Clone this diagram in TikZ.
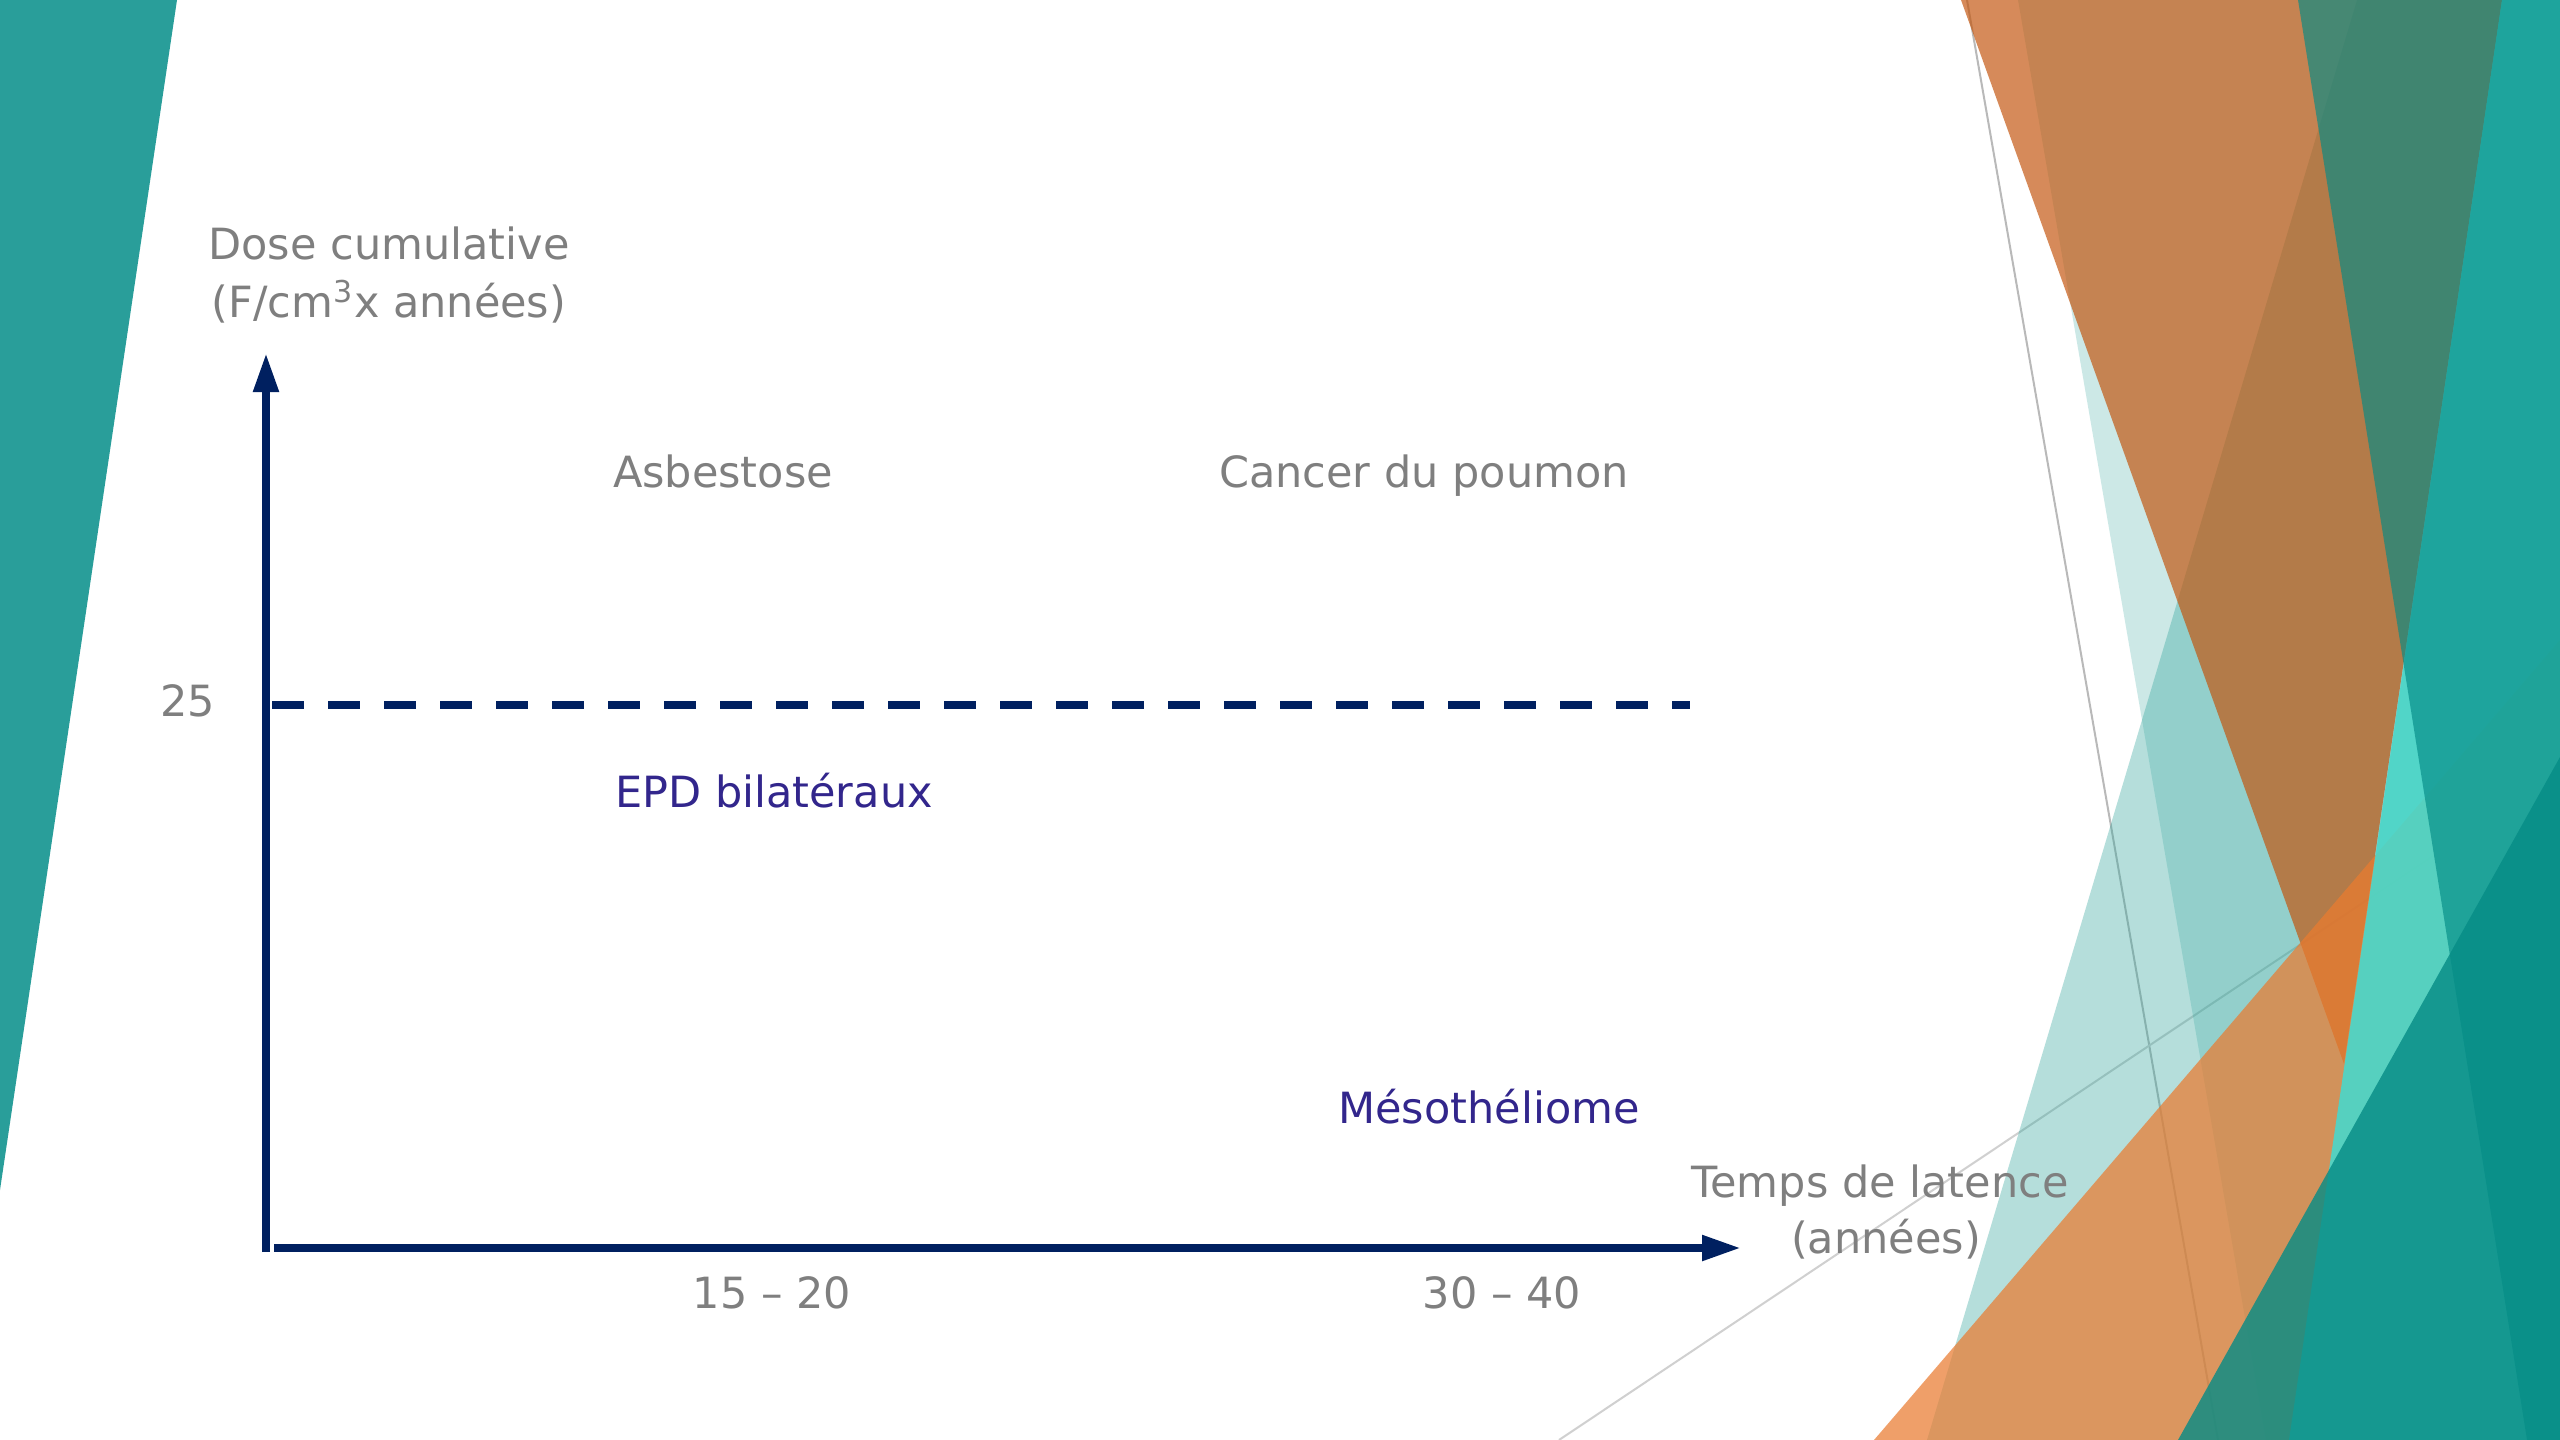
\documentclass[tikz,border=0pt]{standalone}
\usepackage{fontspec}
\setmainfont{DejaVu Sans}
\usetikzlibrary{arrows.meta}
\definecolor{axisblue}{RGB}{0,32,96}
\definecolor{txtgray}{RGB}{127,127,127}
\definecolor{lblpurple}{RGB}{50,38,140}
\definecolor{leftteal}{RGB}{41,158,154}
\definecolor{tealA}{RGB}{43,163,154}
\definecolor{orgA}{RGB}{195,84,12}
\definecolor{orgB}{RGB}{234,123,48}
\definecolor{tealB}{RGB}{76,214,200}
\definecolor{tealC}{RGB}{3,139,134}
\definecolor{tealD}{RGB}{6,140,134}
\definecolor{lineA}{RGB}{185,185,185}
\definecolor{lineB}{RGB}{208,208,208}
\begin{document}
\begin{tikzpicture}[x=0.3pt,y=-0.3pt,
  graytxt/.style={text=txtgray,font=\fontsize{12.9pt}{17pt}\selectfont,inner sep=0pt,anchor=base},
  purpletxt/.style={graytxt,text=lblpurple},
  axisline/.style={draw=axisblue,line width=2.4pt,-{Triangle[length=11.7pt,width=7.2pt]}},
  dashline/.style={draw=axisblue,line width=2.6pt,dash pattern=on 9.6pt off 7.2pt},
  facet/.style={draw=none},
  thinline/.style={line width=0.6pt}
]
% background and bounding box
\fill[white] (0,0) rectangle (2560,1440);
\useasboundingbox (0,0) rectangle (2560,1440);

% left decoration
\fill[leftteal] (0,0) -- (177,0) -- (0,1190) -- cycle;

% thin decorative lines
\draw[thinline,draw=lineA] (1967,0) -- (2218,1440);
\draw[thinline,draw=lineB] (1559,1440) -- (2560,771);

% right facets
\fill[facet,tealA,fill opacity=0.24] (2018,0) -- (2266,1440) -- (2560,1440) -- (2560,0) -- cycle;
\fill[facet,tealA,fill opacity=0.35] (2357,0) -- (1927,1440) -- (2560,1440) -- (2560,0) -- cycle;
\fill[facet,orgA,fill opacity=0.68] (1961,0) -- (2502,0) -- (2344,1064) -- cycle;
\fill[facet,orgB,fill opacity=0.72] (1874,1440) -- (2560,640) -- (2560,1440) -- cycle;
\fill[facet,tealB,fill opacity=0.92] (2502,0) -- (2289,1440) -- (2560,1440) -- (2560,0) -- cycle;
\fill[facet,tealC,fill opacity=0.65] (2298,0) -- (2527,1440) -- (2560,1440) -- (2560,0) -- cycle;
\fill[facet,tealD,fill opacity=0.81] (2178,1440) -- (2560,757) -- (2560,1440) -- cycle;

% axes
\coordinate (yfoot) at (266,1252);
\coordinate (ytip) at (266,353);
\coordinate (xfoot) at (274,1248);
\coordinate (xtip) at (1741,1248);
\coordinate (dashA) at (272,705);
\coordinate (dashB) at (1690,705);
\draw[axisline] (yfoot) -- (ytip);
\draw[axisline] (xfoot) -- (xtip);
\draw[dashline] (dashA) -- (dashB);

% labels
\node[graytxt] (doseA) at (389,259) {Dose cumulative};
\node[graytxt] (doseB) at (389,317) {(F/cm\textsuperscript{3}x années)};
\node[graytxt] (v25) at (188,716) {25};
\node[graytxt] (asb) at (723,487) {Asbestose};
\node[graytxt] (cancer) at (1424,487) {Cancer du poumon};
\node[purpletxt] (epd) at (774,807) {EPD bilatéraux};
\node[purpletxt] (meso) at (1489,1123) {Mésothéliome};
\node[graytxt] (tempsA) at (1880,1197) {Temps de latence};
\node[graytxt] (tempsB) at (1886,1253) {(années)};
\node[graytxt] (t15) at (772,1308) {15 – 20};
\node[graytxt] (t30) at (1502,1308) {30 – 40};
\end{tikzpicture}
\end{document}
